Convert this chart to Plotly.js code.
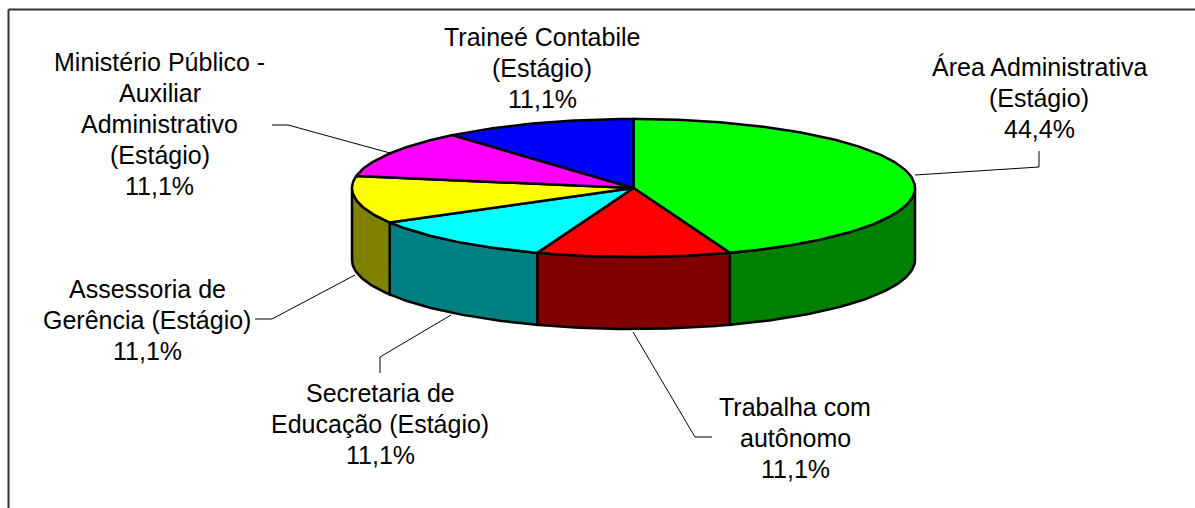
<!DOCTYPE html>
<html>
<head>
<meta charset="utf-8">
<script src="https://cdn.plot.ly/plotly-3.0.1.min.js"></script>
<style>html,body{margin:0;padding:0;background:#fff;}#chart{width:1195px;height:508px;}</style>
</head>
<body>
<div id="chart"></div>
<script>
// ---- data ----
const categories = [
  "Área Administrativa<br>(Estágio)",
  "Trabalha com<br>autônomo",
  "Secretaria de<br>Educação (Estágio)",
  "Assessoria de<br>Gerência (Estágio)",
  "Ministério Público -<br>Auxiliar<br>Administrativo<br>(Estágio)",
  "Traineé Contabile<br>(Estágio)"
];
const percents = [44.4, 11.1, 11.1, 11.1, 11.1, 11.1];
const topColors = ["#00FF00", "#FF0000", "#00FFFF", "#FFFF00", "#FF00FF", "#0000FF"];
const sideColors = ["#008000", "#800000", "#008080", "#808000", "#800080", "#000080"];

// ---- layout geometry (pixel space) ----
const W = 1195, H = 508;
const cx = 633.5, cy = 188, rx = 281.5, ry = 69, depth = 72;
const lineGap = 31;
// centre x and first-line y of each label block
const labelPos = [
  {x: 1039, y: 67}, {x: 795, y: 407}, {x: 380, y: 393},
  {x: 147, y: 289}, {x: 159.5, y: 62}, {x: 542, y: 37}
];
const leaders = [
  "M 915 175 L 1039 167 L 1039 151",
  "M 633 332 L 695 437 L 712 437",
  "M 451 315 L 380 357 L 380 373",
  "M 355 275 L 272 319 L 255 319",
  "M 390 153 L 288 125 L 272 125",
  null
];

function pt(deg, dy) {
  const t = deg * Math.PI / 180;
  return [cx + rx * Math.sin(t), cy - ry * Math.cos(t) + (dy || 0)];
}
function arc(a, b, dy) {
  const n = Math.max(2, Math.ceil(Math.abs(b - a)));
  const out = [];
  for (let i = 0; i <= n; i++) out.push(pt(a + (b - a) * i / n, dy));
  return out;
}

const total = percents.reduce((s, v) => s + v, 0);
const traces = [];
const tops = [];
let start = 0;
percents.forEach((v, i) => {
  const end = start + v / total * 360;
  // side wall (front half: 90..270)
  const s = Math.max(start, 90), e = Math.min(end, 270);
  if (e > s) {
    const topArc = arc(s, e, 0);
    const botArc = arc(e, s, depth);
    const poly = topArc.concat(botArc);
    poly.push(topArc[0]);
    traces.push({
      type: "scatter", mode: "lines", fill: "toself",
      x: poly.map(p => p[0]), y: poly.map(p => p[1]),
      fillcolor: sideColors[i], line: {color: "#000", width: 2.5},
      hoverinfo: "skip", showlegend: false
    });
  }
  const a = arc(start, end, 0);
  const poly = [[cx, cy]].concat(a);
  poly.push([cx, cy]);
  tops.push({
    type: "scatter", mode: "lines", fill: "toself",
    x: poly.map(p => p[0]), y: poly.map(p => p[1]),
    fillcolor: topColors[i], line: {color: "#000", width: 2.5},
    hoverinfo: "skip", showlegend: false
  });
  start = end;
});
tops.forEach(t => traces.push(t));

const fmt = v => v.toFixed(1).replace(".", ",") + "%";
const annotations = [];
categories.forEach((c, i) => {
  const lines = c.split("<br>").concat([fmt(percents[i])]);
  lines.forEach((ln, k) => {
    annotations.push({
      x: labelPos[i].x, y: labelPos[i].y + k * lineGap, xref: "x", yref: "y",
      text: ln, showarrow: false, xanchor: "center", yanchor: "middle", align: "center",
      font: {family: "Liberation Sans, Arial, sans-serif", size: 25, color: "#000"}
    });
  });
});

const shapes = leaders.filter(p => p).map(p => ({
  type: "path", path: p, xref: "x", yref: "y",
  line: {color: "#000", width: 1}
}));
shapes.push({type: "line", xref: "x", yref: "y", x0: 8.5, y0: 9.5, x1: W, y1: 9.5, line: {color: "#333", width: 2}});
shapes.push({type: "line", xref: "x", yref: "y", x0: 8.5, y0: 9.5, x1: 8.5, y1: H, line: {color: "#333", width: 2}});

const layout = {
  width: W, height: H,
  margin: {l: 0, r: 0, t: 0, b: 0},
  paper_bgcolor: "#fff", plot_bgcolor: "#fff",
  xaxis: {range: [0, W], visible: false, fixedrange: true},
  yaxis: {range: [H, 0], visible: false, fixedrange: true},
  annotations: annotations,
  shapes: shapes,
  showlegend: false
};
Plotly.newPlot("chart", traces, layout, {displayModeBar: false, staticPlot: true});
</script>
</body>
</html>
